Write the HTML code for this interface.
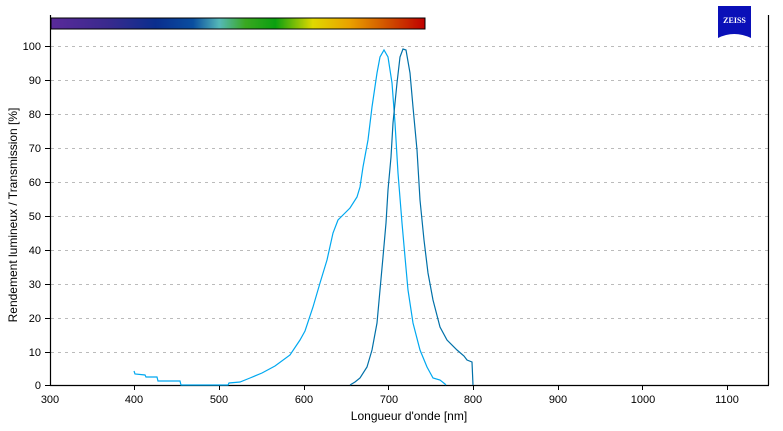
<!DOCTYPE html>
<html><head><meta charset="utf-8"><style>
body{margin:0;background:#fff;}
svg text{font-family:"Liberation Sans","DejaVu Sans",sans-serif;font-size:11px;fill:#000;}
</style></head><body>
<svg width="783" height="426" viewBox="0 0 783 426" xmlns="http://www.w3.org/2000/svg">
<defs>
<linearGradient id="sp" x1="0" x2="1">
<stop offset="0" stop-color="#5a2a9a"/>
<stop offset="0.15" stop-color="#3a2a8e"/>
<stop offset="0.28" stop-color="#0a2e8e"/>
<stop offset="0.38" stop-color="#0a4ea0"/>
<stop offset="0.45" stop-color="#55b8b8"/>
<stop offset="0.52" stop-color="#3aa820"/>
<stop offset="0.6" stop-color="#0aa010"/>
<stop offset="0.7" stop-color="#e0d800"/>
<stop offset="0.8" stop-color="#eaa000"/>
<stop offset="0.9" stop-color="#d05000"/>
<stop offset="1" stop-color="#c00000"/>
</linearGradient>
</defs>
<rect x="51" y="18" width="374" height="11" fill="url(#sp)" stroke="#000" stroke-width="1"/>
<rect x="718" y="6" width="33" height="32" fill="#0a10b8"/>
<path d="M718 38 Q734 30 751 38 Z" fill="#fff"/>
<text x="734.5" y="23" text-anchor="middle" style="font-size:8px;font-weight:bold;fill:#fff;font-family:'Liberation Serif',serif">ZEISS</text>
<g stroke="#bbb" stroke-dasharray="3,4" stroke-width="1">
<line x1="51" x2="768" y1="46.5" y2="46.5"/><line x1="51" x2="768" y1="80.5" y2="80.5"/>
<line x1="51" x2="768" y1="114.5" y2="114.5"/><line x1="51" x2="768" y1="148.5" y2="148.5"/>
<line x1="51" x2="768" y1="182.5" y2="182.5"/><line x1="51" x2="768" y1="216.5" y2="216.5"/>
<line x1="51" x2="768" y1="250.5" y2="250.5"/><line x1="51" x2="768" y1="284.5" y2="284.5"/>
<line x1="51" x2="768" y1="318.5" y2="318.5"/><line x1="51" x2="768" y1="352.5" y2="352.5"/>
</g>
<g stroke="#000" stroke-width="1.2">
<line x1="50.5" y1="15" x2="50.5" y2="385"/>
<line x1="768.5" y1="15" x2="768.5" y2="385"/>
<line x1="50" y1="385.5" x2="769" y2="385.5"/>
</g>
<g stroke="#000" stroke-width="1">
<line x1="45" x2="50" y1="46.5" y2="46.5"/><line x1="45" x2="50" y1="80.5" y2="80.5"/>
<line x1="45" x2="50" y1="114.5" y2="114.5"/><line x1="45" x2="50" y1="148.5" y2="148.5"/>
<line x1="45" x2="50" y1="182.5" y2="182.5"/><line x1="45" x2="50" y1="216.5" y2="216.5"/>
<line x1="45" x2="50" y1="250.5" y2="250.5"/><line x1="45" x2="50" y1="284.5" y2="284.5"/>
<line x1="45" x2="50" y1="318.5" y2="318.5"/><line x1="45" x2="50" y1="352.5" y2="352.5"/>
<line x1="45" x2="50" y1="385.5" y2="385.5"/>
<line x1="134.5" x2="134.5" y1="385" y2="390"/><line x1="219.5" x2="219.5" y1="385" y2="390"/>
<line x1="304.5" x2="304.5" y1="385" y2="390"/><line x1="388.5" x2="388.5" y1="385" y2="390"/>
<line x1="473.5" x2="473.5" y1="385" y2="390"/><line x1="558.5" x2="558.5" y1="385" y2="390"/>
<line x1="642.5" x2="642.5" y1="385" y2="390"/><line x1="727.5" x2="727.5" y1="385" y2="390"/>
</g>
<g text-anchor="end">
<text x="41" y="50">100</text><text x="41" y="84">90</text><text x="41" y="118">80</text>
<text x="41" y="152">70</text><text x="41" y="186">60</text><text x="41" y="220">50</text>
<text x="41" y="254">40</text><text x="41" y="288">30</text><text x="41" y="322">20</text>
<text x="41" y="356">10</text><text x="41" y="389">0</text>
</g>
<g text-anchor="middle">
<text x="50" y="403">300</text><text x="134" y="403">400</text><text x="219" y="403">500</text>
<text x="304" y="403">600</text><text x="389" y="403">700</text><text x="473" y="403">800</text>
<text x="558" y="403">900</text><text x="643" y="403">1000</text><text x="727" y="403">1100</text>
<text x="409" y="420" style="font-size:12px">Longueur d'onde [nm]</text>
<text transform="translate(17,215) rotate(-90)" style="font-size:12px">Rendement lumineux / Transmission [%]</text>
</g>
<polyline fill="none" stroke="#00a8f0" stroke-width="1.2" points="134,371 135,374 145,375 146,377 157,377 158,381 180,381 181,385 228,385 229,383 240,382 250,378 262,373 275,366 290,355 300,340 305,331 313,307 320,283 327,260 333,233 338,220 345,213 350,208 357,197 360,187 363,167 368,140 372,107 377,73 380,57 384,50 388,57 392,83 395,123 398,173 402,223 405,257 408,290 413,323 420,350 427,367 433,378 440,380 445,384 446,385"/>
<polyline fill="none" stroke="#0070a8" stroke-width="1.2" points="350,385 355,382 360,378 367,367 372,350 377,323 380,290 383,257 386,223 388,190 391,157 393,123 397,83 400,57 403,49 406,50 410,73 413,107 417,150 420,200 424,240 428,273 433,300 440,327 447,340 457,350 464,356 467,360 472,362 473,385"/>
</svg>
</body></html>
